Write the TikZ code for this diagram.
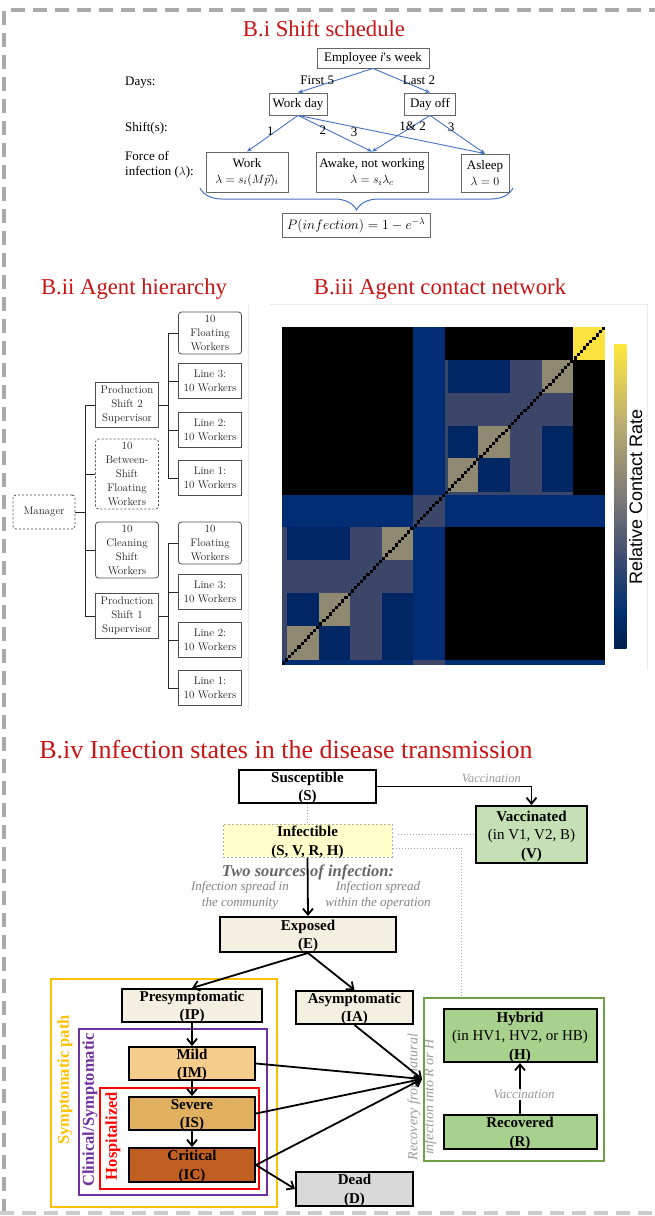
\documentclass[tikz,border=0pt]{standalone}
\usepackage{fontspec}
\newfontfamily\tnr{Liberation Serif}
\setsansfont{Liberation Sans}
\usetikzlibrary{arrows.meta,calc,decorations.pathreplacing}

\definecolor{titlered}{RGB}{200,20,20}
\definecolor{schedblue}{RGB}{68,114,196}
\definecolor{framegray}{RGB}{170,170,170}
\definecolor{cream}{RGB}{243,240,226}
\definecolor{mildc}{RGB}{246,204,140}
\definecolor{severec}{RGB}{224,176,96}
\definecolor{criticalc}{RGB}{193,95,35}
\definecolor{deadc}{RGB}{217,217,217}
\definecolor{vaccc}{RGB}{197,224,180}
\definecolor{recc}{RGB}{169,209,142}
\definecolor{infc}{RGB}{255,255,204}
\definecolor{sympor}{RGB}{255,192,0}
\definecolor{clinpur}{RGB}{112,48,160}
\definecolor{recgreen}{RGB}{112,160,72}
\definecolor{hmnavy}{RGB}{0,38,100}
\definecolor{hmband}{RGB}{0,45,115}
\definecolor{hmslate}{RGB}{60,70,105}
\definecolor{hmbeige}{RGB}{142,137,112}
\definecolor{hmyellow}{RGB}{252,226,60}
\definecolor{notegray}{RGB}{130,130,130}

\pgfdeclareverticalshading{cividis}{100bp}{rgb(0bp)=(0,0.12,0.30); rgb(25bp)=(0,0.12,0.30); rgb(31bp)=(0,0.19,0.44); rgb(40bp)=(0.24,0.30,0.44); rgb(50bp)=(0.49,0.48,0.47); rgb(62.5bp)=(0.74,0.69,0.44); rgb(75bp)=(1,0.91,0.24); rgb(100bp)=(1,0.91,0.24)}

\tikzset{
  ttl/.style={text=titlered, font=\tnr\fontsize{22.7}{26}\selectfont},
  sched/.style={draw=black!60, font=\tnr\fontsize{13}{16}\selectfont, align=center, inner sep=0pt, line width=0.8pt},
  schedarr/.style={draw=schedblue, line width=0.9pt, -{Stealth[length=5pt,width=4pt]}},
  schedlbl/.style={font=\tnr\fontsize{13}{15}\selectfont, inner sep=1pt},
  unit/.style={draw=black!70, text=black!88, font=\fontsize{11}{14}\selectfont, align=center, minimum width=63, inner sep=0pt, line width=0.8pt},
  softunit/.style={unit, rounded corners=3},
  dashunit/.style={softunit, dash pattern=on 2pt off 2pt},
  tree/.style={draw=black!85, line width=1pt},
  state/.style={draw=black, line width=2pt, font=\tnr\bfseries\fontsize{15}{18.5}\selectfont, align=center, inner sep=0pt,
    execute at begin node={\rule{0pt}{13.5pt}}, text depth=0pt},
  flow/.style={draw=black, line width=1.8pt, -{Straight Barb[length=6pt,width=10pt]}},
  dots/.style={draw=black!35, line width=1pt, dotted},
  note/.style={text=notegray, font=\tnr\itshape\fontsize{13}{16}\selectfont, align=center},
  grp/.style={draw=#1, line width=1.5pt, inner sep=0pt},
  grplbl/.style={text=#1, rotate=90, font=\tnr\bfseries\fontsize{16.5}{19}\selectfont},
}

\begin{document}
\begin{tikzpicture}[x=1pt, y=-1pt]
\useasboundingbox (0,0) rectangle (655,1216);
% outer dashed frame
\draw[framegray, line width=4pt, dash pattern=on 14pt off 8pt] (4,1213) -- (4,10) -- (655,10);
\draw[framegray!60, line width=4pt, dash pattern=on 14pt off 8pt] (0,1213) -- (655,1213);

% B.i shift schedule
\node[ttl] (ti) at (324,29) {B.i Shift schedule};
\node[sched, minimum width=112, minimum height=20] (emp) at (373,58) {Employee \textit{i}'s week};
\node[sched, minimum width=58, minimum height=22] (wd) at (298,104) {Work day};
\node[sched, minimum width=51, minimum height=22] (off) at (430,104) {Day off};
\node[sched, minimum width=82, minimum height=40] (work) at (247,172) {Work\\$\lambda = s_i(M\vec{p})_i$};
\node[sched, minimum width=112, minimum height=40] (awake) at (372,172) {Awake, not working\\$\lambda = s_i\lambda_c$};
\node[sched, minimum width=48, minimum height=38] (asleep) at (485,173) {Asleep\\$\lambda = 0$};
\node[sched, minimum width=148, minimum height=24, font=\tnr\fontsize{14}{16}\selectfont] (prob) at (356,225) {\scalebox{0.95}{$P(infection) = 1 - e^{-\lambda}$}};

\node[schedlbl, anchor=west] (days) at (124,83) {Days:};
\node[schedlbl, anchor=west] (shifts) at (124,128) {Shift(s):};
\node[schedlbl, anchor=west, align=left] (force) at (124,165) {Force of\\infection ($\lambda$):};

\draw[schedarr] (emp.south) -- node[schedlbl, left] {First 5} (wd.north);
\draw[schedarr] (emp.south) -- node[schedlbl, right] {Last 2} (off.north);
\draw[schedarr] (wd.south) -- node[schedlbl, pos=.45, left] {1} (work.north);
\draw[schedarr] (wd.south) -- node[schedlbl, pos=.4, left] {2} (awake.north);
\draw[schedarr] (wd.south) -- node[schedlbl, pos=.3, below] {3} (asleep.north);
\draw[schedarr] (off.south) -- node[schedlbl, pos=.3] {1\& 2} (awake.north);
\draw[schedarr] (off.south) -- node[schedlbl, pos=.3, right] {3} (asleep.north);
\draw[schedblue, line width=1pt, decorate, decoration={brace, mirror, amplitude=22pt}] (200,188) -- (513,188);

% B.ii agent hierarchy
\node[ttl] (tii) at (134,289) {B.ii Agent hierarchy};
\draw[black!8] (248,305) -- (248,710);
\node[dashunit, minimum width=62, minimum height=34] (mgr) at (44,512) {Manager};
\node[unit, minimum height=45] (ps2) at (127,405) {Production\\Shift 2\\Supervisor};
\node[dashunit, minimum height=70] (bsf) at (127,474) {10\\Between-\\Shift\\Floating\\Workers};
\node[softunit, minimum height=56] (cln) at (127,550) {10\\Cleaning\\Shift\\Workers};
\node[unit, minimum height=45] (ps1) at (127,616) {Production\\Shift 1\\Supervisor};
\node[softunit, minimum height=42] (f2) at (210,333) {10\\Floating\\Workers};
\node[unit, minimum height=35] (l23) at (210,381) {Line 3:\\10 Workers};
\node[unit, minimum height=35] (l22) at (210,430) {Line 2:\\10 Workers};
\node[unit, minimum height=35] (l21) at (210,478) {Line 1:\\10 Workers};
\node[softunit, minimum height=42] (f1) at (210,543) {10\\Floating\\Workers};
\node[unit, minimum height=35] (l13) at (210,592) {Line 3:\\10 Workers};
\node[unit, minimum height=35] (l12) at (210,640) {Line 2:\\10 Workers};
\node[unit, minimum height=35] (l11) at (210,688) {Line 1:\\10 Workers};
\foreach \c in {ps2,bsf,cln,ps1}
  \draw[tree] (mgr.east) -- ++(10,0) |- (\c.west);
\foreach \c in {f2,l23,l22,l21}
  \draw[tree] (ps2.east) -- ++(10,0) |- (\c.west);
\foreach \c in {f1,l13,l12,l11}
  \draw[tree] (ps1.east) -- ++(10,0) |- (\c.west);

% B.iii agent contact network
\node[ttl] (tiii) at (440,289) {B.iii Agent contact network};
\draw[black!8] (270,304) -- (647,304) -- (647,670);
\begin{scope}[shift={(270,300)}, x=0.33333pt, y=-0.33333pt]
  \fill[black] (35,80) rectangle (1005,1095);
  % shift 1
  \fill[hmslate] (35,682) rectangle (430,1080);
  \fill[hmnavy] (52,682) rectangle (240,780);
  \fill[hmnavy] (52,880) rectangle (148,978);
  \fill[hmnavy] (148,978) rectangle (240,1080);
  \fill[hmnavy] (335,880) rectangle (430,1080);
  \fill[hmbeige] (335,682) rectangle (430,780);
  \fill[hmbeige] (148,880) rectangle (240,978);
  \fill[hmbeige] (52,978) rectangle (148,1080);
  % shift 2
  \fill[hmslate] (525,180) rectangle (910,585);
  \fill[hmnavy] (535,180) rectangle (720,278);
  \fill[hmnavy] (535,378) rectangle (625,475);
  \fill[hmnavy] (625,475) rectangle (720,575);
  \fill[hmnavy] (815,378) rectangle (910,575);
  \fill[hmbeige] (815,180) rectangle (910,278);
  \fill[hmbeige] (625,378) rectangle (720,475);
  \fill[hmbeige] (535,475) rectangle (625,575);
  % between-shift floaters
  \fill[hmband] (430,80) rectangle (525,1095);
  \fill[hmband] (35,585) rectangle (1005,682);
  \fill[hmband] (35,1080) rectangle (1005,1095);
  \fill[hmslate] (430,585) rectangle (525,682);
  \fill[hmslate] (430,1080) rectangle (525,1095);
  % cleaning
  \fill[hmyellow] (910,80) rectangle (1005,180);
  % diagonal
  \foreach \k in {0,...,102}
    \fill[black] ({35+\k*9.417},{1095-\k*9.854}) rectangle ++(9.417,-9.854);
  % colour bar
  \shade[shading=cividis] (1032,133) rectangle (1070,1045);
  \node[rotate=90, font=\sffamily\fontsize{18}{20}\selectfont] (cbar) at (1097,590) {Relative Contact Rate};
\end{scope}

% B.iv infection states
\node[ttl, font=\tnr\fontsize{26}{30}\selectfont] (tiv) at (286,750) {B.iv Infection states in the disease transmission};

\node[note, text=black!60, font=\tnr\bfseries\itshape\fontsize{16.5}{19}\selectfont] (src) at (308,872) {Two sources of infection:};
\node[note] (comm) at (240,895) {Infection spread in\\the community};
\node[note] (oper) at (378,895) {Infection spread\\within the operation};
\node[note, text=black!40, rotate=90, font=\tnr\itshape\fontsize{14}{16}\selectfont] (recnote) at (422,1097) {Recovery from natural\\infection into R or H};

\node[grp=sympor, minimum width=226, minimum height=228] (symf) at (164,1093) {};
\node[grp=clinpur, minimum width=188, minimum height=166] (clinf) at (173,1112) {};
\node[grp=red, minimum width=159, minimum height=101] (hospf) at (179.5,1138.5) {};
\node[grp=recgreen, minimum width=180, minimum height=163] (grn) at (514,1079.5) {};
\node[grplbl=sympor] (symlbl) at (65,1080) {Symptomatic path};
\node[grplbl=clinpur] (clinlbl) at (90,1110) {Clinical/Symptomatic};
\node[grplbl=red] (hosplbl) at (113,1136) {Hospitalized};

\node[state, fill=white, minimum width=137, minimum height=33] (sus) at (307.5,786.5) {Susceptible\\(S)};
\node[state, fill=vaccc, minimum width=111, minimum height=57] (vac) at (531.5,834.5) {Vaccinated\\{\mdseries (in V1, V2, B)}\\(V)};
\node[state, fill=infc, draw=black!30, dotted, line width=1pt, minimum width=169, minimum height=33] (inf) at (307.5,840.5) {Infectible\\(S, V, R, H)};
\node[state, fill=cream, minimum width=176, minimum height=35] (exp) at (308,934.5) {Exposed\\(E)};
\node[state, fill=cream, minimum width=140, minimum height=33] (pre) at (192,1005.5) {Presymptomatic\\(IP)};
\node[state, fill=cream, minimum width=117, minimum height=33] (asy) at (354.5,1007.5) {Asymptomatic\\(IA)};
\node[state, fill=mildc, minimum width=126, minimum height=33] (mild) at (192,1063.5) {Mild\\(IM)};
\node[state, fill=severec, minimum width=126, minimum height=33] (sev) at (192,1113.5) {Severe\\(IS)};
\node[state, fill=criticalc, minimum width=126, minimum height=34] (crit) at (192,1165) {Critical\\(IC)};
\node[state, fill=deadc, minimum width=117, minimum height=34] (dead) at (354.5,1189) {Dead\\(D)};
\node[state, fill=recc, minimum width=153, minimum height=53] (hyb) at (520,1035.5) {Hybrid\\{\mdseries (in HV1, HV2, or HB)}\\(H)};
\node[state, fill=recc, minimum width=153, minimum height=34] (recv) at (520,1132) {Recovered\\(R)};
\coordinate (conv) at (422,1079);

\draw[dots] (sus.south) -- (inf.north);
\draw[dots] ($(vac.west -| inf.east)+(5,0)$) -- (vac.west);
\draw[dots] ($(inf.east)+(0,7.5)$) -| ($(grn.north west)+(38,0)$);
\draw[flow] (sus.east) -| node[note, pos=.37, above, text=black!40, font=\tnr\itshape\fontsize{12.5}{15}\selectfont] {Vaccination} (vac.north);
\draw[flow] (inf.south) -- (exp.north);
\draw[flow] (exp.south) -- (pre.north);
\draw[flow] (exp.south) -- (asy.north);
\draw[flow] (pre.south) -- (mild.north);
\draw[flow] (mild.south) -- (sev.north);
\draw[flow] (sev.south) -- (crit.north);
\draw[flow] (crit.east) -- (dead.west);
\foreach \s in {asy.south,mild.east,sev.east,crit.east}
  \draw[flow] (\s) -- (conv);
\draw[flow] (recv.north) -- node[note, pos=.38, fill=white, inner sep=1pt, xshift=4, text=black!40] {Vaccination} (hyb.south);
\end{tikzpicture}
\end{document}
